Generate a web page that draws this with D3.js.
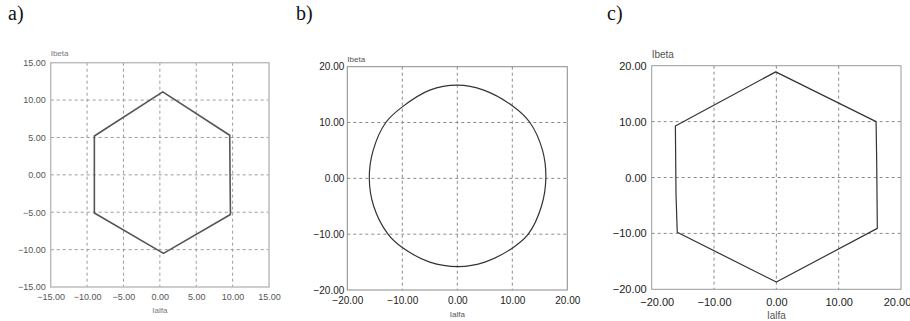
<!DOCTYPE html>
<html>
<head>
<meta charset="utf-8">
<script src="https://cdn.jsdelivr.net/npm/d3@7"></script>
<style>
  html, body { margin: 0; padding: 0; background: #fff; }
  svg { display: block; }
</style>
</head>
<body>
<svg id="chart" width="910" height="321"></svg>
<script>
// Current vector trajectories (Ialfa, Ibeta) for three operating cases.
const hexA_alfa = [0.4, 9.6, 9.7, 0.5, -9.0, -9.0];
const hexA_beta = [11.1, 5.3, -5.3, -10.5, -5.1, 5.2];

const circB_alfa = [16.1, 15.5, 13.2, 10.0, 4.8, 0.0, -5.0, -10.0, -13.0, -15.3, -16.0, -15.2, -12.6, -10.0, -5.0, 0.2, 5.0, 10.0, 12.9, 15.3];
const circB_beta = [0.0, 5.0, 10.0, 13.0, 15.8, 16.7, 15.8, 12.8, 10.0, 5.0, 0.0, -5.0, -10.0, -12.4, -15.0, -15.8, -15.0, -12.5, -10.0, -5.0];

const hexC_alfa = [-0.1, 16.0, 16.1, 16.2, 0.0, -15.9, -16.1, -16.2];
const hexC_beta = [18.9, 10.0, 3.0, -9.1, -18.7, -9.8, -3.0, 9.2];

const ticksA = [-15, -10, -5, 0, 5, 10, 15];
const ticksBC = [-20, -10, 0, 10, 20];

const svg = d3.select("#chart");

function panel(opts) {
  const { letter, letterX, box, dom, ticks, alfa, beta, curve, style } = opts;
  const x = d3.scaleLinear().domain(dom).range([box.left, box.right]);
  const y = d3.scaleLinear().domain(dom).range([box.bottom, box.top]);
  const g = svg.append("g");

  // panel letter
  g.append("text")
    .attr("x", letterX).attr("y", 20)
    .attr("font-family", "Liberation Serif, Times New Roman, serif")
    .attr("font-size", 20).attr("fill", "#111")
    .text(letter + ")");

  // dashed grid on interior ticks
  const inner = ticks.slice(1, -1);
  g.selectAll(".gx").data(inner).join("line")
    .attr("x1", d => x(d)).attr("x2", d => x(d))
    .attr("y1", box.top).attr("y2", box.bottom)
    .attr("stroke", style.grid).attr("stroke-width", 1)
    .attr("stroke-dasharray", "3,3");
  g.selectAll(".gy").data(inner).join("line")
    .attr("y1", d => y(d)).attr("y2", d => y(d))
    .attr("x1", box.left).attr("x2", box.right)
    .attr("stroke", style.grid).attr("stroke-width", 1)
    .attr("stroke-dasharray", "3,3");

  // frame
  g.append("rect")
    .attr("x", box.left).attr("y", box.top)
    .attr("width", box.right - box.left).attr("height", box.bottom - box.top)
    .attr("fill", "none").attr("stroke", style.frame).attr("stroke-width", style.frameW);

  // axes (labels only, the frame carries the lines)
  const fmt = d3.format(".2f");
  const xAxis = d3.axisBottom(x).tickValues(ticks).tickFormat(fmt).tickSize(0).tickPadding(style.xPad);
  const yAxis = d3.axisLeft(y).tickValues(ticks).tickFormat(fmt).tickSize(0).tickPadding(style.yPad);
  const ax = g.append("g").attr("transform", `translate(0,${box.bottom})`).call(xAxis);
  const ay = g.append("g").attr("transform", `translate(${box.left},0)`).call(yAxis);
  [ax, ay].forEach(a => {
    a.select(".domain").remove();
    a.selectAll("text")
      .attr("font-family", "Liberation Sans, Arial, sans-serif")
      .attr("font-size", style.tickSize)
      .attr("fill", style.tickColor);
  });
  // keep the outermost x labels inside the page
  const xl = ax.selectAll("text").nodes();
  d3.select(xl[0]).attr("dx", style.edgeShift[0]);
  d3.select(xl[xl.length - 1]).attr("dx", style.edgeShift[1]);

  // axis titles
  g.append("text")
    .attr("x", box.left).attr("y", box.top - style.betaGap)
    .attr("font-family", "Liberation Sans, Arial, sans-serif")
    .attr("font-size", style.titleSize).attr("fill", style.titleColor)
    .text("Ibeta");
  g.append("text")
    .attr("x", (box.left + box.right) / 2).attr("y", style.alfaY)
    .attr("text-anchor", "middle")
    .attr("font-family", "Liberation Sans, Arial, sans-serif")
    .attr("font-size", style.titleSize).attr("fill", style.titleColor)
    .text("Ialfa");

  // trajectory
  const pts = alfa.map((a, i) => [a, beta[i]]);
  const line = d3.line().x(d => x(d[0])).y(d => y(d[1])).curve(curve);
  g.append("path")
    .attr("d", line(pts))
    .attr("fill", "none")
    .attr("stroke", style.line)
    .attr("stroke-width", style.lineW)
    .attr("stroke-linejoin", "round");
}

panel({
  letter: "a", letterX: 8,
  box: { left: 50.7, right: 269, top: 62.7, bottom: 287 },
  dom: [-15, 15], ticks: ticksA,
  alfa: hexA_alfa, beta: hexA_beta, curve: d3.curveLinearClosed,
  style: { grid: "#9a9a9a", frame: "#bdbdbd", frameW: 1.5, tickSize: 9, tickColor: "#555",
           xPad: 7, yPad: 5, titleSize: 8, titleColor: "#777", betaGap: 7, alfaY: 313,
           line: "#555", lineW: 1.6, edgeShift: [0, 0] }
});

panel({
  letter: "b", letterX: 296,
  box: { left: 347.3, right: 567.3, top: 66.7, bottom: 290 },
  dom: [-20, 20], ticks: ticksBC,
  alfa: circB_alfa, beta: circB_beta, curve: d3.curveCatmullRomClosed,
  style: { grid: "#8a8a8a", frame: "#8a8a8a", frameW: 1, tickSize: 10, tickColor: "#222",
           xPad: 7, yPad: 3, titleSize: 8, titleColor: "#555", betaGap: 5, alfaY: 317,
           line: "#333", lineW: 1.2, edgeShift: [0, 0] }
});

panel({
  letter: "c", letterX: 607,
  box: { left: 651.7, right: 901, top: 65.7, bottom: 289.3 },
  dom: [-20, 20], ticks: ticksBC,
  alfa: hexC_alfa, beta: hexC_beta, curve: d3.curveLinearClosed,
  style: { grid: "#8a8a8a", frame: "#9a9a9a", frameW: 1, tickSize: 11, tickColor: "#222",
           xPad: 9, yPad: 5, titleSize: 10, titleColor: "#555", betaGap: 8, alfaY: 319,
           line: "#333", lineW: 1.2, edgeShift: [5, -4] }
});
</script>
</body>
</html>
